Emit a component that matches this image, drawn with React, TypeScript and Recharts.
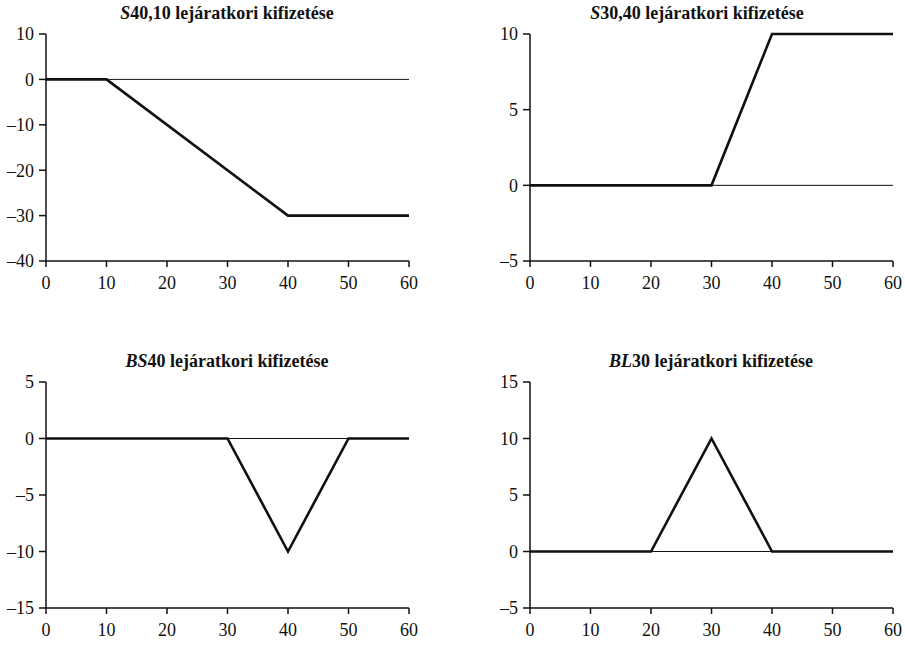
import React from 'react';
import { LineChart, Line, XAxis, YAxis, ReferenceLine } from 'recharts';

// payoff points (price at maturity, payoff)
const s4010 = [
  { x: 0, y: 0 },
  { x: 10, y: 0 },
  { x: 40, y: -30 },
  { x: 60, y: -30 },
];
const s3040 = [
  { x: 0, y: 0 },
  { x: 30, y: 0 },
  { x: 40, y: 10 },
  { x: 60, y: 10 },
];
const bs40 = [
  { x: 0, y: 0 },
  { x: 30, y: 0 },
  { x: 40, y: -10 },
  { x: 50, y: 0 },
  { x: 60, y: 0 },
];
const bl30 = [
  { x: 0, y: 0 },
  { x: 20, y: 0 },
  { x: 30, y: 10 },
  { x: 40, y: 0 },
  { x: 60, y: 0 },
];

const xTicks = [0, 10, 20, 30, 40, 50, 60];
const yTicks1 = [-40, -30, -20, -10, 0, 10];
const yTicks2 = [-5, 0, 5, 10];
const yTicks3 = [-15, -10, -5, 0, 5];
const yTicks4 = [-5, 0, 5, 10, 15];

const FONT = 'Liberation Serif, Tinos, Times New Roman, Times, DejaVu Serif, serif';
const tickStyle = { fill: '#111', fontSize: 18, fontFamily: FONT };
const fmt = (v: number) => String(v).replace('-', '\u2013');

type PanelProps = {
  data: { x: number; y: number }[];
  yTicks: number[];
  left: number;
  top: number;
  width: number;
  height: number;
  margin: { top: number; right: number; left: number; bottom: number };
  yAxisWidth: number;
  title: React.ReactNode;
  titleX: number;
  titleY: number;
};

function Panel(p: PanelProps) {
  return (
    <>
      <div
        style={{
          position: 'absolute',
          left: p.titleX - 200,
          top: p.titleY - 12,
          width: 400,
          textAlign: 'center',
          fontFamily: FONT,
          fontWeight: 'bold',
          fontSize: 18,
          lineHeight: '24px',
          color: '#111',
        }}
      >
        {p.title}
      </div>
      <div style={{ position: 'absolute', left: p.left, top: p.top, fontFamily: FONT }}>
        <LineChart width={p.width} height={p.height} data={p.data} margin={p.margin} style={{ fontFamily: FONT }}>
          <XAxis
            type="number"
            dataKey="x"
            domain={[0, 60]}
            ticks={xTicks}
            interval={0}
            height={39}
            axisLine={{ stroke: '#111', strokeWidth: 1.5 }}
            tickLine={{ stroke: '#111', strokeWidth: 1.5 }}
            tickSize={6}
            tickMargin={9}
            tick={tickStyle}
          />
          <YAxis
            type="number"
            domain={[p.yTicks[0], p.yTicks[p.yTicks.length - 1]]}
            ticks={p.yTicks}
            interval={0}
            width={p.yAxisWidth}
            axisLine={{ stroke: '#111', strokeWidth: 1.5 }}
            tickLine={{ stroke: '#111', strokeWidth: 1.5 }}
            tickSize={7}
            tickMargin={5}
            tick={tickStyle}
            tickFormatter={fmt}
          />
          <ReferenceLine y={0} stroke="#111" strokeWidth={1} />
          <Line
            type="linear"
            dataKey="y"
            stroke="#111"
            strokeWidth={2.6}
            dot={false}
            isAnimationActive={false}
          />
        </LineChart>
      </div>
    </>
  );
}

export default function App() {
  return (
    <div style={{ position: 'absolute', left: 0, top: 0, width: 905, height: 647, background: '#fff' }}>
      <Panel
        data={s4010}
        yTicks={yTicks1}
        left={0}
        top={0}
        width={452}
        height={300}
        margin={{ top: 34, right: 43, left: 0, bottom: 0 }}
        yAxisWidth={46}
        title={<><i>S</i>40,10 lejáratkori kifizetése</>}
        titleX={227}
        titleY={13}
      />
      <Panel
        data={s3040}
        yTicks={yTicks2}
        left={452}
        top={0}
        width={453}
        height={300}
        margin={{ top: 34, right: 12, left: 0, bottom: 0 }}
        yAxisWidth={78}
        title={<><i>S</i>30,40 lejáratkori kifizetése</>}
        titleX={697}
        titleY={13}
      />
      <Panel
        data={bs40}
        yTicks={yTicks3}
        left={0}
        top={320}
        width={452}
        height={327}
        margin={{ top: 62, right: 43, left: 0, bottom: 0 }}
        yAxisWidth={46}
        title={<><i>BS</i>40 lejáratkori kifizetése</>}
        titleX={227}
        titleY={361}
      />
      <Panel
        data={bl30}
        yTicks={yTicks4}
        left={452}
        top={320}
        width={453}
        height={327}
        margin={{ top: 62, right: 12, left: 0, bottom: 0 }}
        yAxisWidth={78}
        title={<><i>BL</i>30 lejáratkori kifizetése</>}
        titleX={711}
        titleY={361}
      />
    </div>
  );
}
